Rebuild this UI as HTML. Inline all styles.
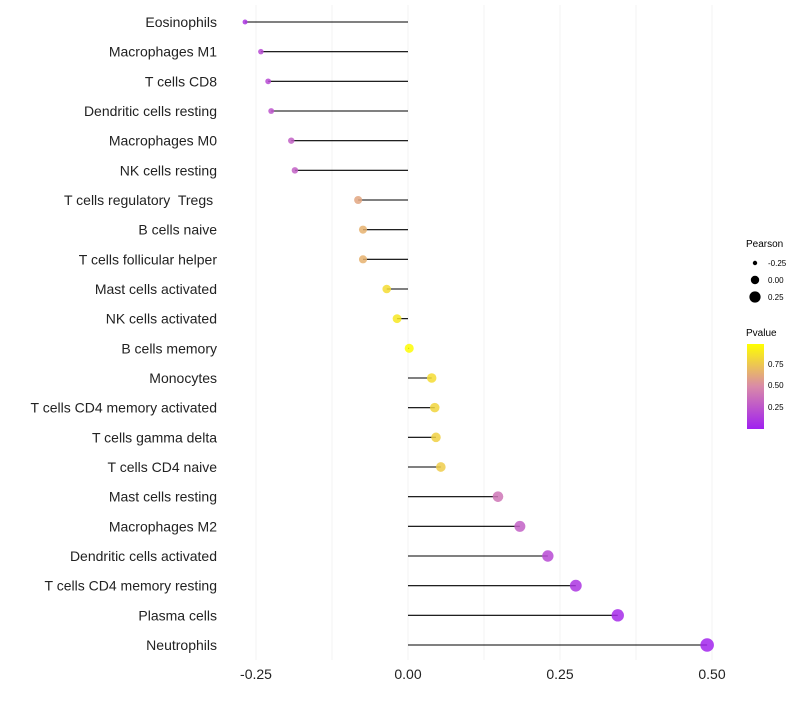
<!DOCTYPE html>
<html><head><meta charset="utf-8"><style>
body{margin:0;background:#fff;font-family:"Liberation Sans",sans-serif}
text{white-space:pre}
</style></head><body>
<svg id="chart" width="800" height="700" xmlns="http://www.w3.org/2000/svg" font-family="Liberation Sans, sans-serif">
<defs><linearGradient id="pg" x1="0" y1="1" x2="0" y2="0">
<stop offset="0" stop-color="#a020f0"/><stop offset="0.5" stop-color="#d98aa8"/><stop offset="1" stop-color="#ffff00"/></linearGradient></defs>
<g id="grid"></g><g id="marks"></g><g id="labels"></g>
<g font-size="10">
<text x="746" y="247" fill="#000">Pearson</text>
<circle cx="755" cy="263" r="2.2" fill="#000"/><text x="768" y="266" font-size="8">-0.25</text>
<circle cx="755" cy="280" r="4.2" fill="#000"/><text x="768" y="283" font-size="8">0.00</text>
<circle cx="755" cy="297" r="5.6" fill="#000"/><text x="768" y="300" font-size="8">0.25</text>
<text x="746" y="336" fill="#000">Pvalue</text>
<rect x="747" y="344" width="17" height="85" fill="url(#pg)"/>
<text x="768" y="367" font-size="8">0.75</text><text x="768" y="388" font-size="8">0.50</text><text x="768" y="410" font-size="8">0.25</text>
</g>
</svg>
<script>
const categories=["Eosinophils","Macrophages M1","T cells CD8","Dendritic cells resting","Macrophages M0","NK cells resting","T cells regulatory  Tregs ","B cells naive","T cells follicular helper","Mast cells activated","NK cells activated","B cells memory","Monocytes","T cells CD4 memory activated","T cells gamma delta","T cells CD4 naive","Mast cells resting","Macrophages M2","Dendritic cells activated","T cells CD4 memory resting","Plasma cells","Neutrophils"];
const pearson=[-0.268,-0.242,-0.230,-0.225,-0.192,-0.186,-0.082,-0.074,-0.074,-0.035,-0.018,0.002,0.039,0.044,0.046,0.054,0.148,0.184,0.230,0.276,0.345,0.492];
const pvalue=[0.1,0.2,0.2,0.25,0.3,0.3,0.62,0.67,0.67,0.85,0.9,0.99,0.85,0.82,0.8,0.78,0.4,0.3,0.2,0.1,0.05,0.02];
const xTicks=[-0.25,0,0.25,0.5];
const xTickLabels=["-0.25","0.00","0.25","0.50"];
const NS="http://www.w3.org/2000/svg";
const x=v=>408+v*608;
const y=i=>22+i*(623/(categories.length-1));
function mk(t,a,p){const e=document.createElementNS(NS,t);for(const k in a)e.setAttribute(k,a[k]);p.appendChild(e);return e;}
function col(p){const s=[[160,32,240],[217,138,168],[255,255,0]];let t=p*2,i=t<1?0:1;t=t<1?t:t-1;const c=s[i].map((v,k)=>Math.round(v+(s[i+1][k]-v)*t));return `rgb(${c})`;}
const G=document.getElementById('grid'),M=document.getElementById('marks'),L=document.getElementById('labels');
for(let v=-0.375;v<=0.626;v+=0.125){const xx=x(v);if(xx<230||xx>760)continue;
const g=mk('line',{x1:xx,x2:xx,y1:5,y2:660,stroke:'#f3f3f3','stroke-width':1},G);

}
xTicks.forEach((v,i)=>{const t=mk('text',{x:x(v),y:679,'text-anchor':'middle','font-size':14,fill:'#222'},L);t.textContent=xTickLabels[i];

});
categories.forEach((c,i)=>{
const t=mk('text',{x:217,y:y(i)+5,'text-anchor':'end','font-size':14,fill:'#222'},L);t.textContent=c;


const ln=mk('line',{x1:x(0),x2:x(pearson[i]),y1:y(i),y2:y(i),stroke:'#000','stroke-width':1.1},M);


const r=Math.sqrt(20.35+52.6*pearson[i]);
const ci=mk('circle',{cx:x(pearson[i]),cy:y(i),r:r,fill:col(pvalue[i]),'fill-opacity':0.85},M);


});
</script>
</body></html>
